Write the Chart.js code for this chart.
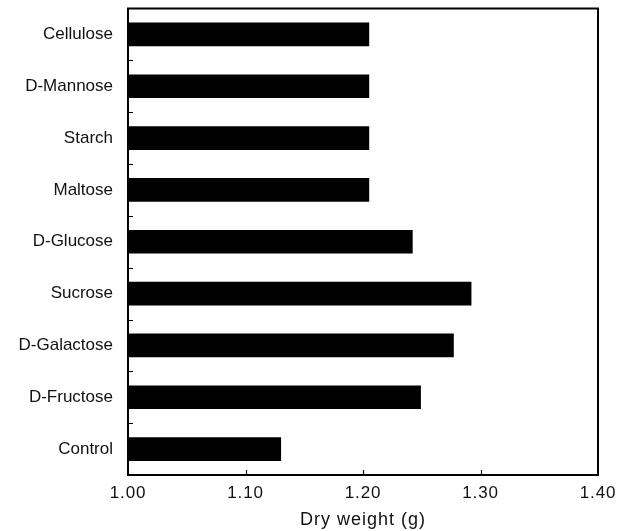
<!DOCTYPE html>
<html>
<head>
<meta charset="utf-8">
<script src="https://cdn.jsdelivr.net/npm/chart.js@4/dist/chart.umd.min.js"></script>
<style>
  html, body { margin: 0; padding: 0; background: #fff; }
  #wrap { width: 626px; height: 531px; }
</style>
</head>
<body>
<div id="wrap"><canvas id="c" width="626" height="531"></canvas></div>
<script>
// ---- data ----
const categories = ["Cellulose", "D-Mannose", "Starch", "Maltose", "D-Glucose", "Sucrose", "D-Galactose", "D-Fructose", "Control"];
const dryWeight = [1.205, 1.205, 1.205, 1.205, 1.242, 1.292, 1.277, 1.249, 1.130];
const xTickValues = [1.00, 1.10, 1.20, 1.30, 1.40];
const xAxisTitle = "Dry weight (g)";

const FONT = "'Liberation Sans', Arial, Helvetica, sans-serif";

function withSpacing(scale, name, spacing) {
  const orig = scale[name];
  if (orig.__wrapped) return;
  const fn = function (...args) {
    const ctx = this.ctx;
    const prev = ctx.letterSpacing;
    ctx.letterSpacing = spacing;
    orig.apply(this, args);
    ctx.letterSpacing = prev || '0px';
  };
  fn.__wrapped = true;
  scale[name] = fn;
}

const frameAndTicks = {
  id: 'frameAndTicks',
  afterLayout(chart) {
    withSpacing(chart.scales.x, 'drawLabels', '0.8px');
    withSpacing(chart.scales.x, 'drawTitle', '1px');
  },
  beforeDraw(chart) {
    chart.ctx.letterSpacing = '0px';
  },
  afterDraw(chart) {
    const ctx = chart.ctx;
    const { left, right, top, bottom } = chart.chartArea;
    const xs = chart.scales.x, ys = chart.scales.y;
    ctx.save();
    ctx.strokeStyle = '#000';
    ctx.lineWidth = 2;
    ctx.strokeRect(left, top, right - left, bottom - top);
    ctx.lineWidth = 1.2;
    ctx.beginPath();
    xTickValues.slice(1, -1).forEach(v => {
      const x = Math.round(xs.getPixelForValue(v)) + 0.5;
      ctx.moveTo(x, bottom);
      ctx.lineTo(x, bottom - 5);
    });
    for (let i = 1; i < categories.length; i++) {
      const y = Math.round((ys.getPixelForValue(i - 1) + ys.getPixelForValue(i)) / 2) + 0.5;
      ctx.moveTo(left, y);
      ctx.lineTo(left + 5, y);
    }
    ctx.stroke();
    ctx.restore();
  }
};

new Chart(document.getElementById('c'), {
  type: 'bar',
  data: {
    labels: categories,
    datasets: [{
      data: dryWeight,
      backgroundColor: '#000',
      borderWidth: 0,
      barThickness: 23
    }]
  },
  options: {
    indexAxis: 'y',
    responsive: false,
    devicePixelRatio: 1,
    animation: false,
    layout: { padding: { left: 0, right: 28, top: 8, bottom: 0 } },
    plugins: { legend: { display: false }, tooltip: { enabled: false } },
    scales: {
      x: {
        type: 'linear',
        min: xTickValues[0],
        max: xTickValues[xTickValues.length - 1],
        afterBuildTicks(scale) { scale.ticks = xTickValues.map(v => ({ value: v })); },
        afterFit(scale) { scale.height = 56; },
        grid: { display: false, drawTicks: false, tickLength: 0 },
        border: { display: false },
        ticks: {
          padding: 8,
          color: '#111',
          font: { family: FONT, size: 17 },
          maxRotation: 0,
          callback: v => Number(v).toFixed(2)
        },
        title: {
          display: true,
          text: xAxisTitle,
          color: '#111',
          font: { family: FONT, size: 18 },
          padding: { top: 0, bottom: 0 }
        }
      },
      y: {
        afterFit(scale) { scale.width = 128; },
        grid: { display: false, drawTicks: true, tickLength: 15 },
        border: { display: false },
        ticks: {
          padding: 0,
          color: '#111',
          font: { family: FONT, size: 17, lineHeight: 1 }
        }
      }
    }
  },
  plugins: [frameAndTicks]
});
</script>
</body>
</html>
